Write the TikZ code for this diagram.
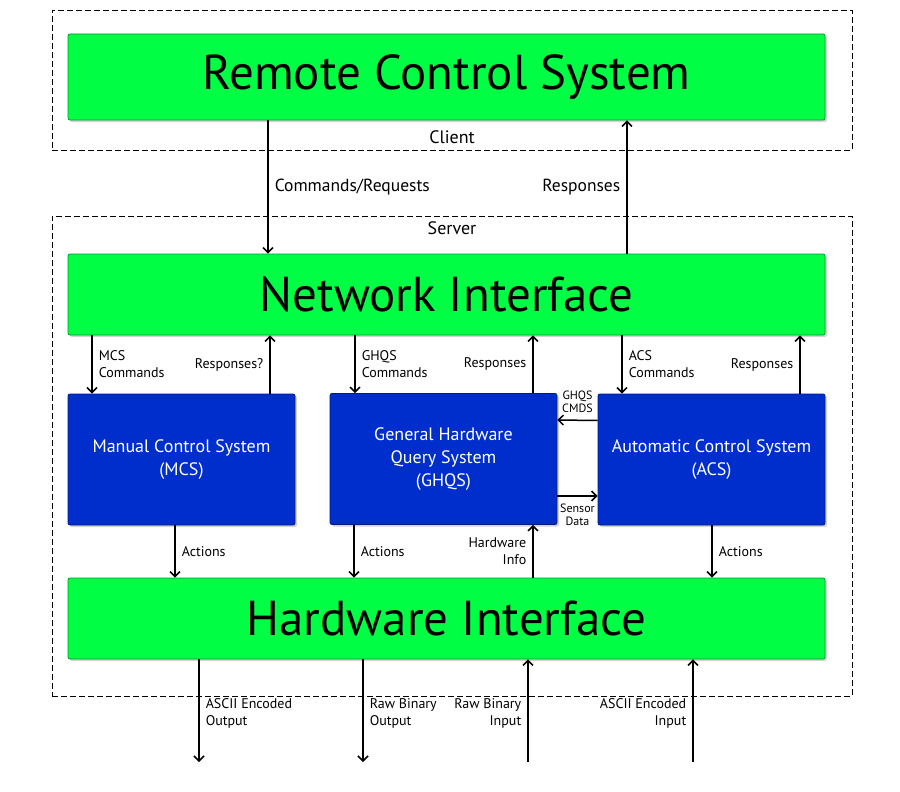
\documentclass[tikz,border=0pt]{standalone}
\usepackage{fontspec}
\setmainfont{PT Sans}
\usetikzlibrary{positioning,shadows,arrows.meta}
\definecolor{ifgreen}{RGB}{0,255,68}
\definecolor{sysblue}{RGB}{0,46,204}

\begin{document}
\begin{tikzpicture}[
        x=1pt, y=-1pt,
        every node/.style={font=\fontsize{14}{17}\selectfont},
        ifbox/.style={rectangle, rounded corners=2pt, fill=ifgreen, draw=ifgreen!60!black,
                      line width=0.8pt, minimum width=757pt, minimum height=81pt,
                      drop shadow={opacity=0.35, shadow xshift=2pt, shadow yshift=-2pt},
                      font=\fontsize{49}{52}\selectfont},
        sysbox/.style={rectangle, rounded corners=2pt, fill=sysblue, draw=sysblue!60!black,
                       line width=0.8pt, minimum width=227pt, minimum height=131pt,
                       drop shadow={opacity=0.35, shadow xshift=2pt, shadow yshift=-2pt},
                       text=white, align=center, font=\fontsize{18}{23}\selectfont},
        zone/.style={rectangle, draw, dash pattern=on 6pt off 3pt, line width=0.6pt,
                     minimum width=800pt},
        zonelabel/.style={font=\fontsize{18}{20}\selectfont, inner sep=6pt},
        arr/.style={-{Straight Barb[length=5pt,width=10pt]}, line width=1.5pt},
        biglbl/.style={font=\fontsize{17.5}{20}\selectfont, inner sep=6pt},
        lbl/.style={font=\fontsize{14}{17}\selectfont, inner sep=6pt},
        sidelbl/.style={font=\fontsize{12}{13}\selectfont, inner sep=7pt, align=center}
      ]
      \useasboundingbox (0,0) rectangle (900,792);

      % Client and server zones
      \node (client) [zone, minimum height=140pt] at (452,80) {};
      \node (server) [zone, minimum height=480pt] at (452,456) {};
      \node [zonelabel, anchor=south] at (client.south) {Client};
      \node [zonelabel, anchor=north] at (server.north) {Server};

      % Green interface bars
      \node (rcs) [ifbox, minimum height=86pt] at (446.5,77) {Remote Control System};
      \node (ni) [ifbox] at (446.5,294.5) {Network Interface};
      \node (hw) [ifbox] at (446.5,618.5) {Hardware Interface};

      % Blue subsystems
      \node (mcs) [sysbox] at (181.5,459.5) {Manual Control System\\(MCS)};
      \node (ghqs) [sysbox] at (443.5,459) {General Hardware\\Query System\\(GHQS)};
      \node (acs) [sysbox] at (711.5,459.5) {Automatic Control System\\(ACS)};

      % Columns of the vertical connectors
      \coordinate (reqx) at (268,0);
      \coordinate (respx) at (627,0);
      \coordinate (mcscmd) at (92,0);
      \coordinate (mcsresp) at (270,0);
      \coordinate (ghqscmd) at (355,0);
      \coordinate (ghqsresp) at (533,0);
      \coordinate (acscmd) at (622,0);
      \coordinate (acsresp) at (800,0);
      \coordinate (mcsact) at (175,0);
      \coordinate (ghqsact) at (354,0);
      \coordinate (acsact) at (712,0);
      \coordinate (hwinfo) at (533,0);
      \coordinate (asciiout) at (199,762);
      \coordinate (rawout) at (363,762);
      \coordinate (rawin) at (528,762);
      \coordinate (asciiin) at (693,762);

      % Client <-> server
      \draw[arr] (rcs.south -| reqx) -- node[biglbl, right]{Commands/Requests} (ni.north -| reqx);
      \draw[arr] (ni.north -| respx) -- node[biglbl, left]{Responses} (rcs.south -| respx);

      % Network interface <-> subsystems
      \draw[arr] (ni.south -| mcscmd) -- node[lbl, right, align=left]{MCS\\Commands} (mcs.north -| mcscmd);
      \draw[arr] (mcs.north -| mcsresp) -- node[lbl, left]{Responses?} (ni.south -| mcsresp);
      \draw[arr] (ni.south -| ghqscmd) -- node[lbl, right, align=left]{GHQS\\Commands} (ghqs.north -| ghqscmd);
      \draw[arr] (ghqs.north -| ghqsresp) -- node[lbl, left]{Responses} (ni.south -| ghqsresp);
      \draw[arr] (ni.south -| acscmd) -- node[lbl, right, align=left]{ACS\\Commands} (acs.north -| acscmd);
      \draw[arr] (acs.north -| acsresp) -- node[lbl, left]{Responses} (ni.south -| acsresp);

      % GHQS <-> ACS
      \draw[arr] ([yshift=39pt]acs.west) -- node[sidelbl, above]{GHQS\\CMDS} ([yshift=39pt]ghqs.west -| ghqs.east);
      \draw[arr] ([yshift=-37pt]ghqs.east) -- node[sidelbl, below]{Sensor\\Data} ([yshift=-37pt]ghqs.east -| acs.west);

      % Subsystems <-> hardware interface
      \draw[arr] (mcs.south -| mcsact) -- node[lbl, right]{Actions} (hw.north -| mcsact);
      \draw[arr] (ghqs.south -| ghqsact) -- node[lbl, right]{Actions} (hw.north -| ghqsact);
      \draw[arr] (acs.south -| acsact) -- node[lbl, right]{Actions} (hw.north -| acsact);
      \draw[arr] (hw.north -| hwinfo) -- node[lbl, left, align=right]{Hardware\\Info} (ghqs.south -| hwinfo);

      % Hardware lines
      \draw[arr] (hw.south -| asciiout) -- node[lbl, right, align=left, pos=0.53]{ASCII Encoded\\Output} (asciiout);
      \draw[arr] (hw.south -| rawout) -- node[lbl, right, align=left, pos=0.53]{Raw Binary\\Output} (rawout);
      \draw[arr] (rawin) -- node[lbl, left, align=right, pos=0.47]{Raw Binary\\Input} (hw.south -| rawin);
      \draw[arr] (asciiin) -- node[lbl, left, align=right, pos=0.47]{ASCII Encoded\\Input} (hw.south -| asciiin);
    \end{tikzpicture}
\end{document}
